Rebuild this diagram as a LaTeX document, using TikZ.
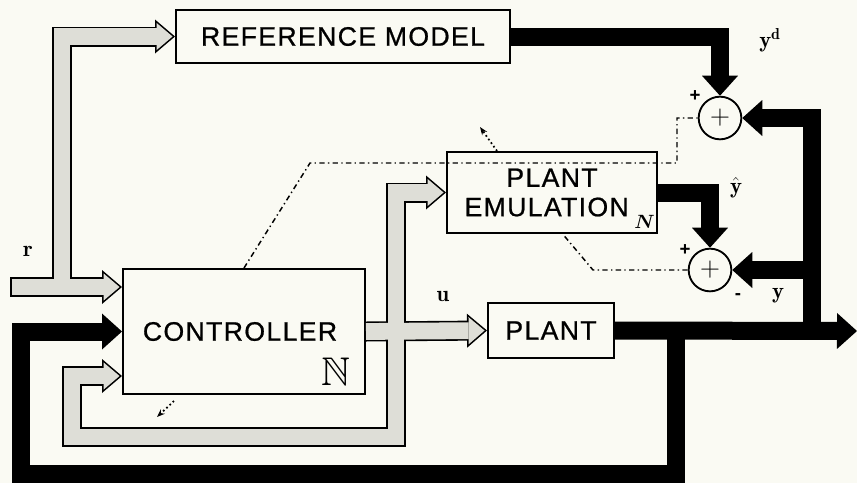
\documentclass[tikz,border=0pt]{standalone}
\usepackage{amsmath}
\usepackage{amssymb}
\usepackage{fontspec}
\setsansfont{Liberation Sans}
\newfontfamily\blockfont{Liberation Sans}[LetterSpace=5, FakeBold=0.8]
\usetikzlibrary{arrows.meta}
\definecolor{paper}{RGB}{250,250,243}
\definecolor{flowgray}{RGB}{222,222,215}

\begin{document}
\begin{tikzpicture}[x=0.75pt, y=-0.75pt,
  block/.style={draw, line width=1.5pt, inner sep=0pt, align=center, font=\blockfont\fontsize{20}{22}\selectfont},
  summer/.style={draw, circle, line width=1.4pt, minimum size=32pt, inner sep=0pt, font=\fontsize{22}{22}\selectfont},
  grayrim/.style={line width=15pt, line join=miter, -{Triangle[length=15pt, width=25.5pt, line width=0pt]}},
  grayfill/.style={flowgray, line width=12.6pt, line join=miter, shorten >=1.85pt, -{Triangle[length=11.95pt, width=20.3pt, line width=0pt]}},
  blackflow/.style={line width=13.5pt, line join=miter, -{Triangle[length=15pt, width=27pt, line width=0pt]}},
  errline/.style={line width=1.1pt, dash pattern=on 4pt off 2.5pt on 1pt off 2.5pt},
  sig/.style={font=\fontsize{17}{17}\selectfont},
  sgn/.style={font=\sffamily\bfseries\fontsize{14}{14}\selectfont}
]
\fill[paper] (0,0) rectangle (857,483);
\useasboundingbox (0,0) rectangle (857,483);

\node[block, minimum width=250.5pt, minimum height=39.75pt] (refmodel) at (343,36.5) {REFERENCE MODEL};
\node[block, minimum width=181.5pt, minimum height=93.75pt] (controller) at (244,331.5) {CONTROLLER\hspace*{6pt}};
\node[block, minimum width=157.5pt, minimum height=60.75pt] (emul) at (552,192.5) {PLANT\\EMULATION\hspace*{8pt}};
\node[block, minimum width=94.5pt, minimum height=41.25pt] (plant) at (551,330.5) {PLANT};
\node[summer] (sumd) at (720,118) {$+$};
\node[summer] (sumy) at (710,270) {$+$};

\coordinate (rin) at (10,287);
\coordinate (rsplit) at (62,287);
\coordinate (usplit) at (396,331);
\coordinate (uloop) at (72,437);
\coordinate (uback) at (72,376);
\coordinate (yout) at (857,331);
\coordinate (ysplit) at (812,331);
\coordinate (fbsplit) at (676,331);
\coordinate (fbcorner) at (21,474);

% gray signal paths: rim first, then the fill
\draw[grayrim] (rin) -- (controller.west |- rin);
\draw[grayrim] (rsplit) |- (refmodel.west);
\draw[grayrim] (controller.east) -- (plant.west);
\draw[grayrim] (usplit) |- (emul.west);
\draw[grayrim] (usplit) |- (uloop) -- (uback) -- (controller.west |- uback);
\draw[grayfill, shorten <=1.2pt] (rin) -- (controller.west |- rin);
\draw[grayfill] (rsplit) |- (refmodel.west);
\draw[grayfill] (controller.east) -- (plant.west);
\draw[grayfill] (usplit) |- (emul.west);
\draw[grayfill] (usplit) |- (uloop) -- (uback) -- (controller.west |- uback);

% black signal paths
\draw[blackflow] (refmodel.east) -| (sumd.north);
\draw[blackflow] (emul.east) -| (sumy.north);
\draw[blackflow] (plant.east) -- (yout);
\draw[blackflow] (ysplit) |- (sumd.east);
\draw[blackflow] (sumy.east -| ysplit) -- (sumy.east);
\draw[blackflow] (fbsplit) |- (fbcorner) |- (controller.west);

% error lines
\draw[errline] (controller.north) -- (310,163) -- (677,163) |- (sumd.west);
\draw[errline] (sumy.west) -- (593,270) -- ([xshift=8pt]emul.south);
\draw[dotted, line width=1.3pt, -{Stealth[length=6pt]}] (497,151) -- (480,127);
\draw[dotted, line width=1.3pt, -{Stealth[length=6pt]}] (174,401) -- (157,417);

\node[anchor=south east, inner sep=0pt, font=\fontsize{30}{30}\selectfont] (cnet) at (351,386) {$\mathbb{N}$};
\node[anchor=south east, inner sep=0pt, font=\fontsize{15}{15}\selectfont] (enet) at (655,229) {$\boldsymbol{N}$};

\node[sig] (rlab) at (28,251) {$\mathbf{r}$};
\node[sig] (ulab) at (443,296) {$\mathbf{u}$};
\node[sig] (ydlab) at (770,40) {$\mathbf{y}^{\mathbf{d}}$};
\node[sig] (yhlab) at (736,188) {$\hat{\mathbf{y}}$};
\node[sig] (ylab) at (778,296) {$\mathbf{y}$};
\node[sgn] (pd) at (695,96) {+};
\node[sgn] (md) at (758,132) {-};
\node[sgn] (py) at (685,250) {+};
\node[sgn] (my) at (738,297) {-};
\end{tikzpicture}
\end{document}
